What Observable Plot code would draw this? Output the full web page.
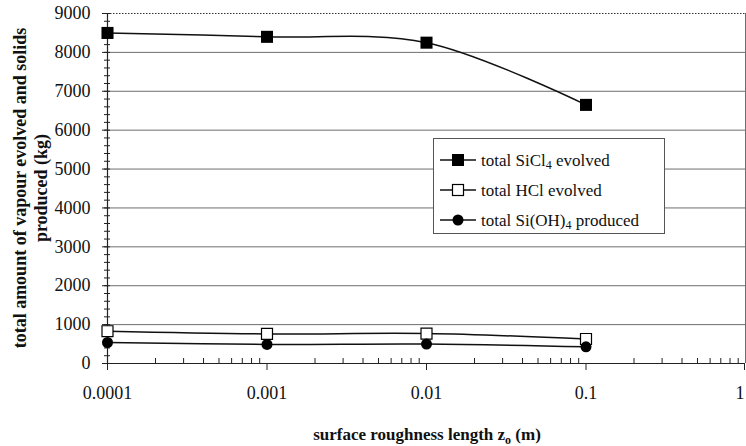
<!DOCTYPE html>
<html><head>
<meta charset="utf-8">
<script src="https://cdn.jsdelivr.net/npm/d3@7"></script>
<script src="https://cdn.jsdelivr.net/npm/@observablehq/plot@0.6"></script>
<style>
body{margin:0;background:#fff}
#chart svg{font-family:"Liberation Serif","Times New Roman",serif;background:#fff}
</style>
</head><body><div id="chart"></div>
<script>
const roughness = [0.0001, 0.001, 0.01, 0.1];
const sicl4 = [8500, 8400, 8250, 6650];
const hcl = [830, 760, 770, 630];
const sioh4 = [540, 490, 500, 430];
const xTicks = [0.0001, 0.001, 0.01, 0.1, 1];
const xTickLabels = ["0.0001", "0.001", "0.01", "0.1", "1"];
const yTicks = [0, 1000, 2000, 3000, 4000, 5000, 6000, 7000, 8000, 9000];
const gridValues = [1000, 2000, 3000, 4000, 5000, 6000, 7000, 8000];
const legendNames = [["total SiCl", "4", " evolved"], ["total HCl evolved"], ["total Si(OH)", "4", " produced"]];

const yMinor = d3.range(0, 9001, 200);
const xMinor = [];
[0.0001, 0.001, 0.01, 0.1].forEach(d => { for (let k = 2; k <= 9; k++) xMinor.push(d * k); });

const rows = (vals) => roughness.map((x, i) => ({x, y: vals[i]}));
const dS = rows(sicl4), dH = rows(hcl), dO = rows(sioh4);
const fmtX = d => xTickLabels[xTicks.findIndex(t => Math.abs(t - d) < t * 1e-6)];

const plot = Plot.plot({
  width: 746, height: 446,
  marginLeft: 107, marginRight: 1, marginTop: 13, marginBottom: 83,
  x: {type: "log", domain: [0.0001, 1], label: null},
  y: {domain: [0, 9000], label: null},
  marks: [
    Plot.ruleY(gridValues, {stroke: "#6e6e6e", strokeWidth: 1}),
    Plot.ruleY([9000], {stroke: "#333", strokeDasharray: "1.5,1.5", strokeWidth: 1.2}),
    Plot.ruleX([1], {stroke: "#6e6e6e", strokeWidth: 1}),
    Plot.axisY({ticks: yMinor, tickSize: 6, dx: 3, text: null, label: null, stroke: "#222"}),
    Plot.axisY({ticks: yTicks, tickSize: 5, tickPadding: 12, fontSize: 18, tickFormat: d => String(d), label: null, fill: "#111", stroke: "#222"}),
    Plot.axisX({ticks: xMinor, tickSize: 5, dy: -5, text: null, label: null, stroke: "#222"}),
    Plot.axisX({ticks: xTicks.slice(0, 4), tickSize: 7, tickPadding: 16, fontSize: 18, tickFormat: fmtX, label: null, fill: "#111", stroke: "#222"}),
    Plot.axisX({ticks: xTicks.slice(4), tickSize: 7, tickPadding: 16, fontSize: 18, tickFormat: fmtX, label: null, fill: "#111", stroke: "#222", textAnchor: "end", dx: -1}),
    Plot.ruleY([0], {stroke: "#222", strokeWidth: 1.2}),
    Plot.ruleX([0.0001], {stroke: "#222", strokeWidth: 1.2}),
    Plot.line(dS, {x: "x", y: "y", curve: "catmull-rom", stroke: "#111", strokeWidth: 1.5}),
    Plot.line(dH, {x: "x", y: "y", curve: "catmull-rom", stroke: "#111", strokeWidth: 1.5}),
    Plot.line(dO, {x: "x", y: "y", curve: "catmull-rom", stroke: "#111", strokeWidth: 1.5}),
    Plot.dot(dS, {x: "x", y: "y", symbol: "square", r: 6.8, fill: "#000", stroke: "none"}),
    Plot.dot(dH, {x: "x", y: "y", symbol: "square", r: 6.2, fill: "#fff", stroke: "#000", strokeWidth: 1.2}),
    Plot.dot(dO, {x: "x", y: "y", symbol: "circle", r: 5.5, fill: "#000", stroke: "none"})
  ]
});
document.getElementById("chart").append(plot);

const svg = d3.select(plot);

// Y axis title (two lines)
const yt = svg.append("text")
  .attr("transform", "translate(26,188) rotate(-90)")
  .attr("text-anchor", "middle").attr("font-weight", "bold").attr("font-size", 18).attr("fill", "#111");
yt.append("tspan").attr("x", 0).attr("y", 0).text("total amount of vapour evolved and solids");
yt.append("tspan").attr("x", 0).attr("y", 21).text("produced (kg)");

// X axis title with subscript
const xt = svg.append("text").attr("x", 427).attr("y", 440)
  .attr("text-anchor", "middle").attr("font-weight", "bold").attr("font-size", 17).attr("fill", "#111");
xt.append("tspan").text("surface roughness length z");
xt.append("tspan").attr("font-size", 12).attr("dy", 4).text("o");
xt.append("tspan").attr("dy", -4).text(" (m)");

// Legend
const lg = svg.append("g").attr("text-anchor", "start");
lg.append("rect").attr("x", 433.5).attr("y", 138.5).attr("width", 231).attr("height", 95)
  .attr("fill", "#fff").attr("stroke", "#555").attr("stroke-width", 1);
const rowY = [160, 190, 220];
legendNames.forEach((parts, i) => {
  const y = rowY[i];
  lg.append("line").attr("x1", 440).attr("x2", 476).attr("y1", y).attr("y2", y).attr("stroke", "#111").attr("stroke-width", 1.5);
  if (i === 0) lg.append("rect").attr("x", 452).attr("y", y - 6).attr("width", 12).attr("height", 12).attr("fill", "#000");
  if (i === 1) lg.append("rect").attr("x", 452.5).attr("y", y - 5.5).attr("width", 11).attr("height", 11).attr("fill", "#fff").attr("stroke", "#000").attr("stroke-width", 1.2);
  if (i === 2) lg.append("circle").attr("cx", 458).attr("cy", y).attr("r", 5.5).attr("fill", "#000");
  const t = lg.append("text").attr("x", 481).attr("y", y + 6).attr("font-size", 17).attr("fill", "#111").attr("text-anchor", "start");
  t.append("tspan").text(parts[0]);
  if (parts.length > 1) {
    t.append("tspan").attr("font-size", 12).attr("dy", 3).text(parts[1]);
    t.append("tspan").attr("dy", -3).text(parts[2]);
  }
});
</script>
</body></html>
